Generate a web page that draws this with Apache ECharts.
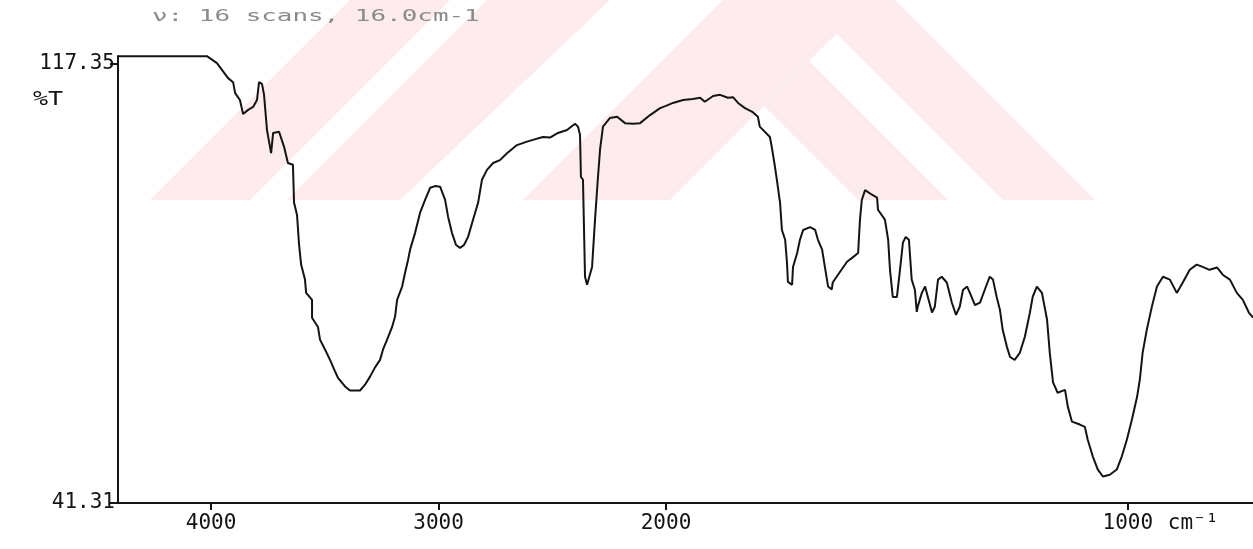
<!DOCTYPE html>
<html><head><meta charset="utf-8">
<script src="https://cdn.jsdelivr.net/npm/echarts@6/dist/echarts.min.js"></script>
<style>html,body{margin:0;padding:0;background:#fff}#c{width:1253px;height:549px}</style>
</head><body><div id="c"></div>
<script>
// ---- data ----
const titleText = 'ν: 16 scans, 16.0cm-1';
const yAxisTitle = '%T';
const yTickValues = [41.31, 117.35];
const xTicksHigh = [2000, 3000, 4000];
const xTicksLow = [1000];
const xUnitLabel = 'cm⁻¹';
// [wavenumber cm-1, %T], 4400 -> 2000 cm-1 region
const spectrumHigh = [[4409,118.7],[4018,118.7],[3974,117.5],[3925,114.9],[3903,114.2],[3894,112.3],[3873,111.1],[3859,108.7],[3837,109.4],[3815,109.9],[3798,111.1],[3789,114.2],[3776,113.9],[3767,112.0],[3754,105.9],[3736,101.9],[3727,105.4],[3701,105.6],[3679,103.0],[3662,100.2],[3640,99.9],[3635,93.3],[3622,91.2],[3613,86.0],[3604,82.6],[3587,80.0],[3582,77.7],[3556,76.5],[3556,73.4],[3530,71.8],[3521,69.6],[3499,67.9],[3477,66.1],[3455,64.1],[3442,63.0],[3411,61.5],[3389,60.8],[3345,60.8],[3323,61.8],[3301,63.2],[3279,64.8],[3257,66.1],[3244,67.9],[3226,69.6],[3204,71.8],[3191,73.6],[3182,76.5],[3160,78.8],[3147,81.2],[3134,83.4],[3125,85.2],[3103,88.1],[3081,91.6],[3059,93.8],[3037,95.9],[3015,96.2],[2993,96.1],[2971,93.8],[2958,90.9],[2941,88.1],[2923,86.0],[2905,85.5],[2888,86.0],[2870,87.4],[2848,90.4],[2826,93.3],[2809,97.3],[2787,99.0],[2760,100.2],[2730,100.7],[2699,101.9],[2655,103.3],[2611,103.9],[2585,104.2],[2541,104.7],[2510,104.6],[2475,105.4],[2435,105.9],[2400,107.0],[2387,106.5],[2378,105.1],[2374,97.8],[2365,97.3],[2356,80.5],[2347,79.1],[2325,82.2],[2312,90.4],[2299,97.8],[2290,102.5],[2277,106.5],[2246,108.0],[2215,108.2],[2180,107.1],[2145,107.0],[2114,107.1],[2070,108.5],[2026,109.7],[2000,110.1]];
// [wavenumber cm-1, %T], 2000 -> 730 cm-1 region (expanded scale)
const spectrumLow = [[2000,110.1],[1985,110.6],[1963,111.1],[1942,111.3],[1926,111.5],[1916,110.8],[1898,111.8],[1883,112.0],[1866,111.5],[1855,111.6],[1844,110.6],[1829,109.7],[1812,109.0],[1801,108.2],[1797,106.5],[1775,104.7],[1771,103.0],[1764,99.5],[1760,97.3],[1753,93.3],[1749,88.6],[1742,86.9],[1738,82.9],[1736,79.6],[1727,79.1],[1725,82.2],[1716,84.6],[1710,86.9],[1703,88.6],[1688,89.1],[1677,88.6],[1671,86.9],[1662,85.2],[1656,82.2],[1649,78.8],[1641,78.3],[1639,79.5],[1628,80.8],[1608,83.1],[1595,83.9],[1584,84.6],[1580,90.4],[1576,93.8],[1569,95.5],[1565,95.5],[1554,94.7],[1543,94.2],[1541,92.1],[1526,90.4],[1519,86.9],[1515,81.7],[1509,77.0],[1500,77.0],[1494,81.2],[1487,86.4],[1481,87.4],[1474,86.9],[1468,80.0],[1461,78.2],[1457,74.4],[1455,75.3],[1446,77.7],[1439,78.8],[1433,77.0],[1424,74.3],[1418,75.3],[1411,80.0],[1403,80.5],[1392,79.5],[1381,76.0],[1372,73.9],[1364,75.3],[1357,78.2],[1348,78.8],[1342,77.7],[1331,75.6],[1320,76.0],[1310,78.2],[1299,80.5],[1292,80.0],[1284,77.0],[1277,74.8],[1271,71.3],[1262,68.4],[1255,66.6],[1245,66.1],[1234,67.3],[1223,70.1],[1212,74.3],[1206,77.0],[1197,78.8],[1186,77.7],[1175,73.1],[1169,67.3],[1162,62.2],[1152,60.4],[1136,60.9],[1130,58.0],[1121,55.4],[1104,54.9],[1093,54.5],[1087,52.3],[1076,49.4],[1065,47.1],[1054,45.9],[1039,46.2],[1024,47.1],[1013,49.4],[1002,52.3],[991,55.8],[980,59.7],[974,62.7],[968,67.3],[959,71.3],[948,75.3],[937,78.8],[924,80.5],[909,80.0],[894,77.7],[881,79.5],[866,81.7],[851,82.6],[838,82.2],[823,81.7],[807,82.1],[794,80.8],[779,80.0],[764,77.7],[751,76.5],[738,74.3],[729,73.4]];

// ---- chart ----
const INK = '#141414';
const LABEL_FONT = 'DejaVu Sans Mono';
const chart = echarts.init(document.getElementById('c'), null, {renderer: 'canvas'});
const pink = '#fdebee';
const wm = [
  [[150,200],[250,200],[450,0],[350,0]],
  [[287,200],[400,200],[610,0],[487,0]],
  [[523,200],[670,200],[870,0],[723,0]],
  [[764,106],[809,61],[948,200],[858,200]],
  [[803,0],[895,0],[1095,200],[1003,200]],
  [[803,0],[870,0],[836.5,33.5]]
];
const yMin = 41.31, yMax = 118.73;
const axisLabelStyle = {color: INK, fontSize: 21, fontFamily: LABEL_FONT};
chart.setOption({
  animation: false,
  backgroundColor: '#fff',
  grid: [
    {left: 118, top: 56, width: 548, bottom: 46, containLabel: false},
    {left: 666, top: 56, right: 0, bottom: 46, containLabel: false}
  ],
  xAxis: [
    {type: 'value', gridIndex: 0, inverse: true, min: 2000, max: 4409,
     axisLine: {show: true, lineStyle: {color: INK, width: 2}},
     axisTick: {show: true, customValues: xTicksHigh, length: 7, lineStyle: {color: INK, width: 2}},
     axisLabel: {show: true, customValues: xTicksHigh, margin: 10, formatter: v => String(v), ...axisLabelStyle},
     splitLine: {show: false}},
    {type: 'value', gridIndex: 1, inverse: true, min: 729, max: 2000,
     axisLine: {show: true, lineStyle: {color: INK, width: 2}},
     axisTick: {show: true, customValues: xTicksLow, length: 7, lineStyle: {color: INK, width: 2}},
     axisLabel: {show: true, customValues: xTicksLow, margin: 10, formatter: v => String(v), ...axisLabelStyle},
     splitLine: {show: false}}
  ],
  yAxis: [
    {type: 'value', gridIndex: 0, min: yMin, max: yMax,
     axisLine: {show: true, lineStyle: {color: INK, width: 2}},
     axisTick: {show: true, customValues: yTickValues, length: 8, lineStyle: {color: INK, width: 2}},
     axisLabel: {show: true, customValues: yTickValues, margin: 3, formatter: v => v.toFixed(2), ...axisLabelStyle},
     splitLine: {show: false}},
    {type: 'value', gridIndex: 1, min: yMin, max: yMax, show: false, splitLine: {show: false}}
  ],
  series: [
    {type: 'line', xAxisIndex: 0, yAxisIndex: 0, data: spectrumHigh, showSymbol: false,
     lineStyle: {color: INK, width: 2}, z: 5},
    {type: 'line', xAxisIndex: 1, yAxisIndex: 1, data: spectrumLow, showSymbol: false,
     lineStyle: {color: INK, width: 2}, z: 5}
  ],
  graphic: [
    ...wm.map(p => ({type: 'polygon', silent: true, z: -100, shape: {points: p}, style: {fill: pink}})),
    {type: 'text', x: 152, y: 17, scaleX: 1.62, z: 10,
     style: {text: titleText, font: '16px "DejaVu Sans Mono"', fill: '#8a8a8a', verticalAlign: 'middle'}},
    {type: 'text', x: 33, y: 100, scaleX: 1.25, z: 10,
     style: {text: yAxisTitle, font: '20px "DejaVu Sans Mono"', fill: INK, verticalAlign: 'middle'}}
  ]
});
// unit label placed right after the 1000 tick label
const p1000 = chart.convertToPixel({xAxisIndex: 1}, xTicksLow[0]);
chart.setOption({graphic: [{type: 'text', id: 'unit', x: p1000 + 40, y: 524, z: 10,
  style: {text: xUnitLabel, font: '21px "DejaVu Sans Mono"', fill: INK, verticalAlign: 'middle'}}]});
</script></body></html>
